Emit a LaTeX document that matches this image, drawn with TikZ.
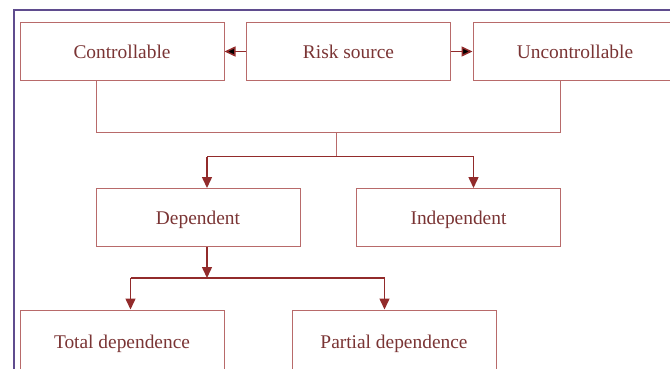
\documentclass[tikz,border=0pt]{standalone}
\usepackage{fontspec}
\setmainfont{Liberation Serif}
\usetikzlibrary{arrows.meta}
\definecolor{boxred}{HTML}{B86A6A}
\definecolor{arrowred}{HTML}{922B2B}
\definecolor{textred}{HTML}{7A3434}
\definecolor{framepurple}{HTML}{5F4C8E}

\begin{document}
\begin{tikzpicture}[x=1pt,y=-1pt,
    box/.style={shape=rectangle,draw=boxred,line width=1pt,minimum width=204pt,minimum height=58pt,inner sep=0pt,text height=14pt,text depth=0pt,text=textred,font=\fontsize{19.4}{23}\selectfont},
    link/.style={draw=boxred,line width=1pt},
    thickline/.style={draw=arrowred,line width=1.5pt},
    arrow/.style={thickline,-{Triangle[length=11pt,width=10pt]}}]
        \useasboundingbox (0,0) rectangle (670,369);
        \clip (0,0) rectangle (670,369);
        \draw[framepurple,line width=2pt] (700,10.5) -| (13.5,400);

        \node[box] (ctrl) at (122,51.5)     {Controllable};
        \node[box] (risk) at (348.5,51.5)   {Risk source};
        \node[box] (unctrl) at (575,51.5)   {Uncontrollable};
        \node[box] (dep) at (198,217.5)     {Dependent};
        \node[box] (indep) at (458.5,217.5) {Independent};
        \node[box,minimum height=62pt] (total) at (122,341)   {Total dependence};
        \node[box,minimum height=62pt] (partial) at (394,341) {Partial dependence};

        \coordinate (cdrop) at (96.5,132);
        \coordinate (udrop) at (560,132);
        \coordinate (mid) at (336.5,132);
        \coordinate (split) at (336.5,156.5);
        \coordinate (dleft) at (207,156.5);
        \coordinate (dright) at (473.5,156.5);
        \coordinate (dsplit) at (207,278);
        \coordinate (tleft) at (130.5,278);
        \coordinate (tright) at (384.5,278);

	\path[arrow] (risk) edge (ctrl);
	\path[arrow] (risk) edge (unctrl);
	\draw[link] (ctrl.south -| cdrop) -- (cdrop) -- (udrop) -- (unctrl.south -| udrop);
	\draw[link] (mid) -- (split);
	\draw[thickline] (dleft) -- (dright);
	\draw[arrow] (dleft) -- (dep.north -| dleft);
	\draw[arrow] (dright) -- (indep.north -| dright);
	\draw[arrow] (dep.south -| dsplit) -- (dsplit);
	\draw[thickline] (tleft) -- (tright);
	\draw[arrow] (tleft) -- (total.north -| tleft);
	\draw[arrow] (tright) -- (partial.north -| tright);
	\end{tikzpicture}
\end{document}
